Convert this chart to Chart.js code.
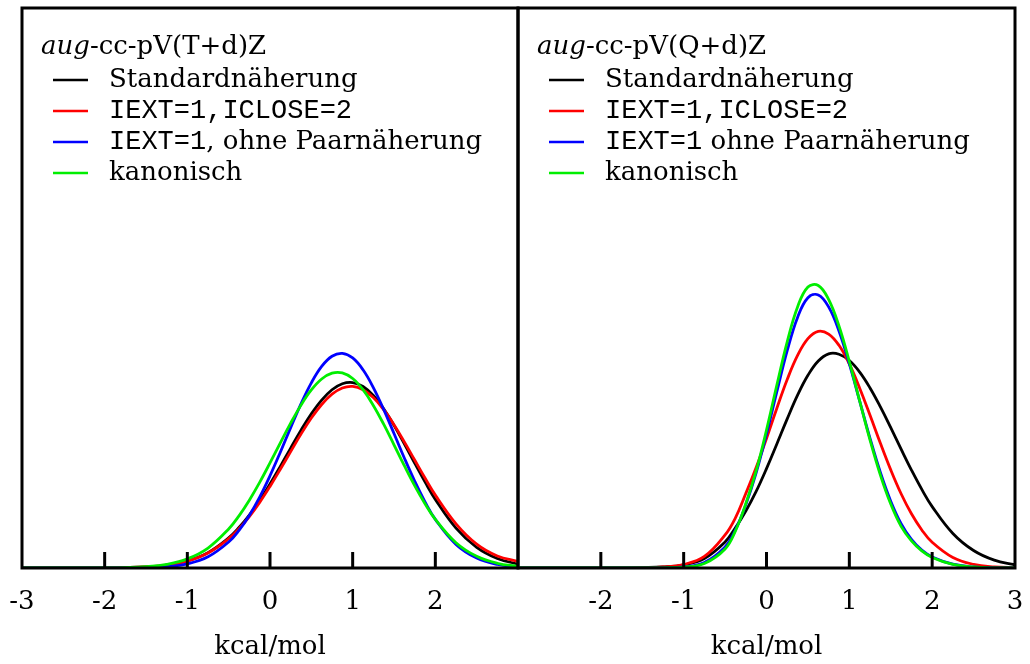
<!DOCTYPE html>
<html>
<head>
<meta charset="utf-8">
<script src="https://cdn.jsdelivr.net/npm/chart.js@4.4.0/dist/chart.umd.min.js"></script>
<style>
  body { margin: 0; background: #fff; }
  .panel { position: absolute; top: 0; width: 530px; height: 664px; }
</style>
</head>
<body>
<div class="panel" style="left:0px"><canvas id="left" width="530" height="664"></canvas></div>
<div class="panel" style="left:500px"><canvas id="right" width="530" height="664"></canvas></div>
<script>
// x grid in kcal/mol, shared by all curves (finer around the peaks)
const energies = [-3, -2.75, -2.5, -2.25, -2, -1.75, -1.5, -1.25, -1, -0.75, -0.5,
                  -0.375, -0.25, -0.125, 0, 0.125, 0.25, 0.375, 0.5, 0.625, 0.75, 0.875,
                  1, 1.125, 1.25, 1.375, 1.5, 1.625, 1.75, 1.875, 2, 2.25, 2.5, 2.75, 3];

// aug-cc-pV(T+d)Z (left panel), arbitrary units
const tdStandard = [0, 0, 0, 0, 0.001, 0.004, 0.011, 0.029, 0.07, 0.153, 0.30,
                    0.403, 0.527, 0.673, 0.837, 1.013, 1.195, 1.373, 1.536, 1.673, 1.776, 1.836,
                    1.848, 1.809, 1.719, 1.586, 1.421, 1.237, 1.045, 0.858, 0.684, 0.398, 0.206, 0.095, 0.039];
const tdIclose   = [0, 0, 0, 0, 0.001, 0.004, 0.011, 0.029, 0.069, 0.15, 0.292,
                    0.392, 0.513, 0.654, 0.813, 0.984, 1.16, 1.334, 1.494, 1.629, 1.732, 1.794,
                    1.81, 1.777, 1.698, 1.578, 1.428, 1.256, 1.076, 0.896, 0.726, 0.44, 0.238, 0.12, 0.065];
const tdNoPair   = [0, 0, 0, 0, 0, 0.001, 0.004, 0.013, 0.041, 0.111, 0.259,
                    0.375, 0.524, 0.706, 0.919, 1.154, 1.399, 1.636, 1.845, 2.009, 2.11, 2.139,
                    2.093, 1.975, 1.798, 1.58, 1.34, 1.096, 0.866, 0.659, 0.485, 0.235, 0.099, 0.036, 0.011];
const tdCanon    = [0, 0, 0, 0, 0.001, 0.004, 0.013, 0.037, 0.091, 0.199, 0.389,
                    0.52, 0.676, 0.853, 1.047, 1.247, 1.443, 1.623, 1.774, 1.883, 1.941, 1.944,
                    1.888, 1.777, 1.62, 1.433, 1.228, 1.02, 0.821, 0.641, 0.485, 0.252, 0.116, 0.047, 0.017];

// aug-cc-pV(Q+d)Z (right panel)
const qdStandard = [0, 0, 0, 0, 0, 0.001, 0.004, 0.01, 0.032, 0.095, 0.26,
                    0.40, 0.567, 0.763, 0.99, 1.236, 1.486, 1.722, 1.92, 2.063, 2.134, 2.13,
                    2.067, 1.952, 1.794, 1.605, 1.398, 1.184, 0.976, 0.783, 0.612, 0.344, 0.174, 0.078, 0.032];
const qdIclose   = [0, 0, 0, 0, 0, 0.001, 0.003, 0.01, 0.035, 0.115, 0.33,
                    0.50, 0.742, 1.001, 1.29, 1.592, 1.878, 2.118, 2.285, 2.358, 2.331, 2.219,
                    2.033, 1.792, 1.522, 1.243, 0.978, 0.74, 0.54, 0.379, 0.256, 0.104, 0.036, 0.011, 0.003];
const qdNoPair   = [0, 0, 0, 0, 0, 0, 0.001, 0.002, 0.01, 0.055, 0.21,
                    0.38, 0.63, 0.948, 1.335, 1.757, 2.165, 2.497, 2.693, 2.721, 2.602, 2.362,
                    2.034, 1.664, 1.292, 0.952, 0.666, 0.442, 0.285, 0.178, 0.11, 0.038, 0.011, 0.002, 0];
const qdCanon    = [0, 0, 0, 0, 0, 0, 0.001, 0.002, 0.008, 0.045, 0.19,
                    0.37, 0.64, 0.967, 1.375, 1.823, 2.254, 2.601, 2.80, 2.815, 2.676, 2.411,
                    2.057, 1.664, 1.275, 0.926, 0.637, 0.415, 0.27, 0.17, 0.105, 0.035, 0.01, 0.001, 0];

// tick labels per panel, and the inward tick marks
const leftTicks = [-3, -2, -1, 0, 1, 2];
const rightTicks = [-2, -1, 0, 1, 2, 3];
const tickMarks = [-2, -1, 0, 1, 2];

// legend text: [text, style] runs, style rm = roman, it = italic, tt = typewriter
const leftTitle = [['aug', 'it'], ['-cc-pV(T+d)Z', 'rm']];
const rightTitle = [['aug', 'it'], ['-cc-pV(Q+d)Z', 'rm']];
const leftNames = [
  [['Standardnäherung', 'rm']],
  [['IEXT=1,ICLOSE=2', 'tt']],
  [['IEXT=1', 'tt'], [', ohne Paarnäherung', 'rm']],
  [['kanonisch', 'rm']]
];
const rightNames = [
  [['Standardnäherung', 'rm']],
  [['IEXT=1,ICLOSE=2', 'tt']],
  [['IEXT=1', 'tt'], [' ohne Paarnäherung', 'rm']],
  [['kanonisch', 'rm']]
];
const colors = ['#000000', '#ff0000', '#0000ff', '#00ee00'];

const FONTS = {
  rm: '26px "DejaVu Serif"',
  it: 'italic 26px "DejaVu Serif"',
  tt: '27px "Liberation Mono"'
};

function drawRuns(ctx, runs, x, y) {
  runs.forEach(([text, style]) => {
    ctx.font = FONTS[style];
    ctx.fillText(text, x, y);
    x += ctx.measureText(text).width;
  });
}

// frame, inward tick marks and the key
const decorPlugin = {
  id: 'decor',
  afterDatasetsDraw(chart, args, opts) {
    const { ctx, chartArea: a } = chart;
    const x = chart.scales.x;
    ctx.save();
    ctx.strokeStyle = '#000';
    ctx.lineWidth = 3;
    ctx.strokeRect(a.left, a.top, a.right - a.left, a.bottom - a.top);
    tickMarks.forEach(v => {
      const px = x.getPixelForValue(v);
      ctx.beginPath();
      ctx.moveTo(px, a.bottom);
      ctx.lineTo(px, a.bottom - 16);
      ctx.stroke();
    });

    ctx.fillStyle = '#000';
    ctx.textBaseline = 'middle';
    drawRuns(ctx, opts.title, a.left + 19, a.top + 39);
    ctx.lineWidth = 2.5;
    opts.names.forEach((runs, i) => {
      const y = a.top + 72 + i * 31;
      ctx.strokeStyle = colors[i];
      ctx.beginPath();
      ctx.moveTo(a.left + 31, y);
      ctx.lineTo(a.left + 66, y);
      ctx.stroke();
      ctx.fillStyle = '#000';
      drawRuns(ctx, runs, a.left + 87, y);
    });
    ctx.restore();
  }
};

function makePanel(id, series, ticks, title, names, pad) {
  const datasets = series.map((vals, i) => ({
    data: energies.map((e, j) => ({ x: e, y: vals[j] })),
    borderColor: colors[i],
    borderWidth: 2.8,
    pointRadius: 0,
    tension: 0.4,
    fill: false,
    order: 3 - i
  }));
  return new Chart(document.getElementById(id), {
    type: 'line',
    data: { datasets },
    options: {
      responsive: false,
      animation: false,
      events: [],
      layout: { padding: pad },
      plugins: {
        legend: { display: false },
        tooltip: { enabled: false },
        decor: { title, names }
      },
      scales: {
        x: {
          type: 'linear',
          min: -3,
          max: 3,
          afterBuildTicks: s => { s.ticks = ticks.map(v => ({ value: v })); },
          afterFit: s => { s.paddingLeft = 0; s.paddingRight = 0; },
          grid: { display: false, drawTicks: false },
          border: { display: false },
          ticks: {
            autoSkip: false,
            maxRotation: 0,
            padding: 19,
            color: '#000',
            font: { family: 'DejaVu Serif', size: 26 },
            callback: v => String(v)
          },
          title: {
            display: true,
            text: 'kcal/mol',
            color: '#000',
            font: { family: 'DejaVu Serif', size: 26 },
            padding: { top: -6, bottom: 1.6 }
          }
        },
        y: { display: false, min: 0, max: 5.58 }
      }
    },
    plugins: [decorPlugin]
  });
}

makePanel('left', [tdStandard, tdIclose, tdNoPair, tdCanon], leftTicks, leftTitle, leftNames,
          { left: 22, right: 12, top: 8, bottom: 0 });
makePanel('right', [qdStandard, qdIclose, qdNoPair, qdCanon], rightTicks, rightTitle, rightNames,
          { left: 18, right: 15, top: 8, bottom: 0 });
</script>
</body>
</html>
